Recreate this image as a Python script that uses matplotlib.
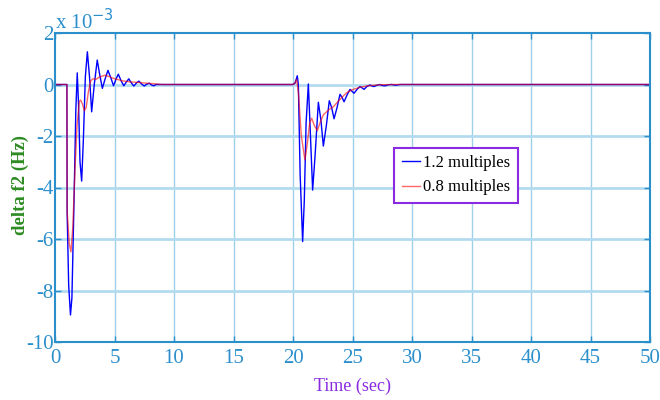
import numpy as np
import matplotlib
matplotlib.use('Agg')
import matplotlib.pyplot as plt

# frequency deviation of area 2, values in units of 1e-3 Hz
blue_t = [0, 1.0, 1.02, 1.15, 1.3, 1.42, 1.6, 1.75, 1.87, 1.98, 2.1, 2.24, 2.38, 2.55, 2.72,
          2.9, 3.08, 3.3, 3.55, 3.75, 3.98, 4.2, 4.45, 4.7, 4.92, 5.12, 5.32, 5.55, 5.78,
          6.0, 6.2, 6.42, 6.62, 6.85, 7.05, 7.28, 7.5, 7.7, 7.92, 8.12, 8.3, 8.5,
          20.0, 20.17, 20.36, 20.45, 20.6, 20.81, 20.95, 21.1, 21.29, 21.45, 21.65, 21.85,
          22.13, 22.35, 22.55, 22.8, 23.05, 23.25, 23.45, 23.7, 23.95, 24.12, 24.29, 24.55,
          24.79, 24.95, 25.13, 25.4, 25.63, 25.8, 25.97, 26.2, 26.47, 26.65, 26.8, 27.05,
          27.3, 27.5, 27.75, 28.0, 28.3, 28.6, 29.0, 50]
blue_f = [0, 0, -5.0, -7.8, -8.95, -8.3, -4.5, -1.0, 0.45, -0.8, -3.0, -3.75, -2.2, 0.3, 1.27,
          0.3, -1.06, 0.0, 0.95, 0.4, -0.15, 0.2, 0.55, 0.25, -0.05, 0.2, 0.4, 0.15, -0.05,
          0.1, 0.22, 0.06, -0.06, 0.06, 0.13, 0.02, -0.06, 0.01, 0.05, -0.02, -0.05, 0.0,
          0, 0.05, 0.34, 0.0, -3.5, -6.1, -4.5, -1.5, 0.02, -1.8, -4.1, -2.8,
          -0.69, -1.4, -2.39, -1.6, -0.63, -0.9, -1.33, -0.9, -0.38, -0.5, -0.67, -0.4,
          -0.19, -0.26, -0.34, -0.18, -0.08, -0.13, -0.19, -0.08, -0.02, -0.06, -0.08, -0.03,
          0.0, -0.04, -0.05, -0.01, 0.0, -0.03, 0, 0]

red_t = [0, 1.0, 1.02, 1.2, 1.34, 1.5, 1.68, 1.85, 2.04, 2.15, 2.3, 2.47, 2.62, 2.8, 3.0,
         3.2, 3.45, 3.7, 4.2, 4.6, 4.9, 5.6, 6.3, 7.0, 7.7, 8.4, 9.0,
         20.0, 20.15, 20.3, 20.45, 20.7, 21.0, 21.2, 21.4, 21.57, 21.8, 22.04, 22.3, 22.55,
         23.0, 23.4, 23.9, 24.5, 25.0, 25.6, 26.3, 27.3, 28.5, 50]
red_f = [0, 0, -4.9, -6.2, -6.5, -5.5, -3.3, -1.6, -0.67, -0.6, -0.75, -1.02, -0.9, -0.3, 0.15,
         0.22, 0.2, 0.28, 0.36, 0.3, 0.24, 0.15, 0.1, 0.08, 0.05, 0.03, 0,
         0, 0.05, 0.2, -0.3, -2.0, -2.93, -2.3, -1.5, -1.31, -1.6, -1.79, -1.45, -1.18,
         -0.98, -0.86, -0.6, -0.32, -0.2, -0.11, -0.05, -0.01, 0, 0]

x_ticks = np.arange(0, 51, 5)
y_ticks = np.arange(-10, 3, 2)

plt.rcParams['font.family'] = ['Liberation Serif', 'DejaVu Serif']
plt.rcParams['axes.unicode_minus'] = False

axcol = '#2b8fcc'
fig = plt.figure(figsize=(6.6, 4.0), dpi=100)
ax = fig.add_axes([55/660, 58/400, 595/660, 309/400])

for xv in x_ticks[1:-1]:
    ax.axvline(xv, color='#9fd0ea', lw=1.0, zorder=0)
for yv in y_ticks[1:-1]:
    ax.axhline(yv, color='#b3dbef', lw=2.0, zorder=0)

ax.plot(blue_t, blue_f, color='#0000ff', lw=1.0, label='1.2 multiples')
ax.plot(red_t, red_f, color='#ff0000', alpha=0.6, lw=1.0, label='0.8 multiples')

ax.set_xlim(0, 50)
ax.set_ylim(-10, 2)
ax.set_xticks(x_ticks)
ax.set_yticks(y_ticks)
ax.tick_params(direction='in', length=4, width=1, colors=axcol, labelsize=15,
               top=True, right=True)
ax.tick_params(axis='x', pad=5)
ax.tick_params(axis='y', pad=1)
for s in ax.spines.values():
    s.set_color(axcol)
    s.set_linewidth(1.5)

ax.set_xlabel('Time (sec)', color='#8a2be2', fontsize=13, labelpad=7)
# y label placed by hand so it sits clear of the tick labels
fig.text(20/660, 1 - 185/400, 'delta f2 (Hz)', color='#2e8b22', fontsize=13.5,
         fontweight='bold', rotation=90, ha='center', va='center')
fig.text(55/660, 1 - 29/400, 'x 10$^{-3}$', color=axcol, fontsize=15, va='baseline',
         ha='left')

leg = ax.legend(loc='lower left', bbox_to_anchor=(0.570, 0.450), borderaxespad=0,
                fontsize=12, handlelength=1.1, handletextpad=0.2, fancybox=False,
                framealpha=1, borderpad=0.45, labelspacing=0.5)
leg.get_frame().set_edgecolor('#8a2be2')
leg.get_frame().set_linewidth(1.5)

fig.savefig('out.png', dpi=100)
